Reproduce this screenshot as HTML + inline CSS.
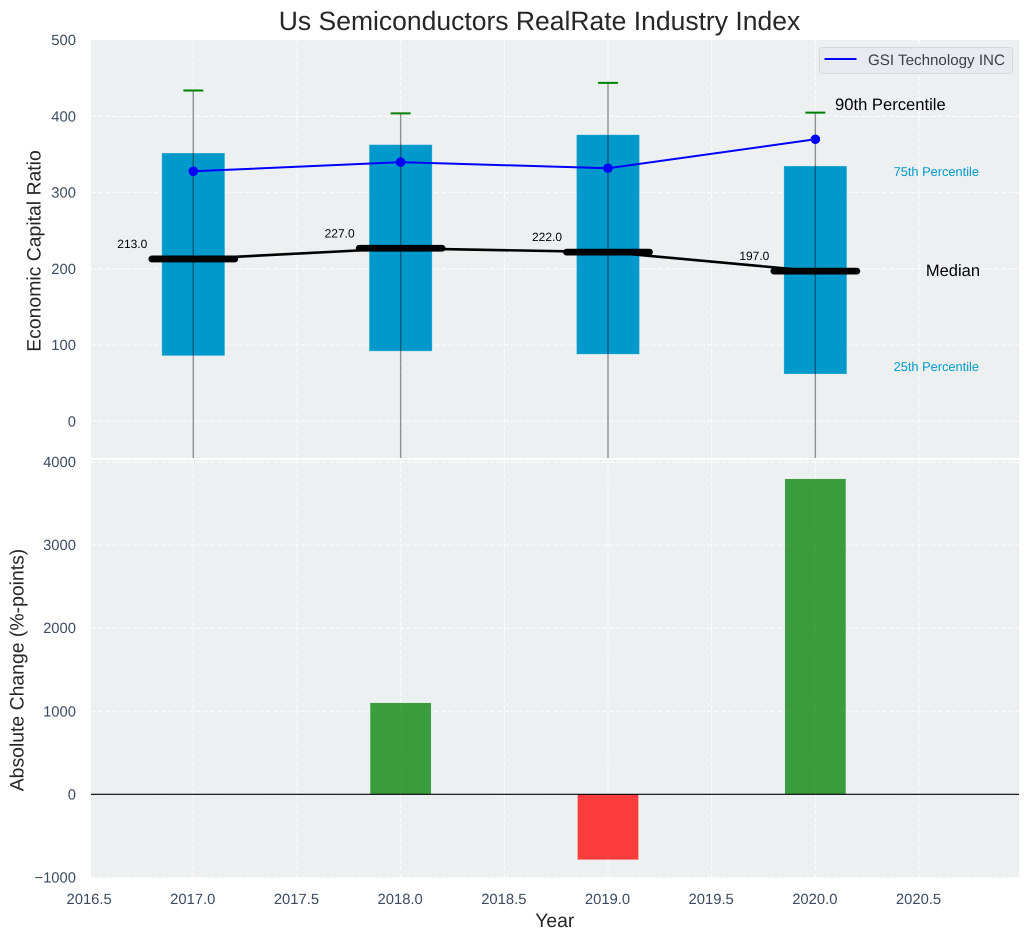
<!DOCTYPE html>
<html lang="en">
<head>
<meta charset="utf-8">
<title>Us Semiconductors RealRate Industry Index</title>
<style>
  html, body { margin: 0; padding: 0; background: #ffffff; }
  svg { display: block; font-family: "Liberation Sans", Arial, sans-serif; text-rendering: geometricPrecision; }
  .tick { font-size: 14.8px; fill: #3b4a60; }
  .axis-title { font-size: 19.4px; fill: #262626; }
</style>
</head>
<body>
<svg id="chart" xmlns="http://www.w3.org/2000/svg" width="1029" height="940" viewBox="0 0 1029 940">
  <defs>
    <clipPath id="top-clip"><rect x="91" y="40" width="928" height="418"></rect></clipPath>
    <clipPath id="bottom-clip"><rect x="91" y="460" width="928" height="418"></rect></clipPath>
  </defs>
  <rect x="0" y="0" width="1029" height="940" fill="#ffffff"></rect>
  <rect x="91" y="40" width="928" height="418" fill="#ecf0f1"></rect>
  <rect x="91" y="460" width="928" height="418" fill="#ecf0f1"></rect>
  <g id="grid-layer"></g>
  <g id="tick-layer"></g>
  <g id="top-marks" clip-path="url(#top-clip)"></g>
  <g id="bottom-marks" clip-path="url(#bottom-clip)"></g>
  <g id="label-layer"></g>

  <text x="539.5" y="30" text-anchor="middle" font-size="26.5px" fill="#262626">Us Semiconductors RealRate Industry Index</text>
  <text class="axis-title" transform="translate(40.5,251) rotate(-90)" text-anchor="middle">Economic Capital Ratio</text>
  <text class="axis-title" transform="translate(23.5,670) rotate(-90)" text-anchor="middle">Absolute Change (%-points)</text>
  <text class="axis-title" x="554.8" y="927" text-anchor="middle">Year</text>

  <text x="835" y="110" font-size="16.6px" fill="#000000">90th Percentile</text>
  <text x="979" y="176" text-anchor="end" font-size="12.8px" fill="#0099cc">75th Percentile</text>
  <text x="980" y="276" text-anchor="end" font-size="16.5px" fill="#000000">Median</text>
  <text x="979" y="371" text-anchor="end" font-size="12.8px" fill="#0099cc">25th Percentile</text>

  <g>
    <rect x="819.5" y="47.5" width="193" height="26" rx="3" fill="#e9eaf0" stroke="#d6d8de" stroke-width="1"></rect>
    <line x1="824.5" y1="59" x2="856.5" y2="59" stroke="#0000ff" stroke-width="2"></line>
    <text x="868" y="65" font-size="15.15px" fill="#3b3f47">GSI Technology INC</text>
  </g>
</svg>
<script>
// ---- chart data ----
const years = [2017, 2018, 2019, 2020];
const p25 = [86, 92, 88, 62];
const p75 = [352, 363, 376, 335];
const medians = [213, 227, 222, 197];
const p90 = [434, 404, 444, 405];
const whiskerLow = [-60, -60, -60, -60];
const companyValues = [328, 340, 332, 370];
const absoluteChange = [0, 1100, -786, 3797];
const xTicks = [2016.5, 2017.0, 2017.5, 2018.0, 2018.5, 2019.0, 2019.5, 2020.0, 2020.5];
const topYTicks = [0, 100, 200, 300, 400, 500];
const bottomYTicks = [-1000, 0, 1000, 2000, 3000, 4000];

// ---- axis functions ----
function xPos(v) { return 193.3 + (v - 2017) * 207.35; }
function yTop(v) { return 421.3 - v * 0.7622; }
function yBottom(v) { return 794.3 - v * 0.08305; }

const NS = 'http://www.w3.org/2000/svg';
function mk(parent, tag, attrs, text) {
  const el = document.createElementNS(NS, tag);
  for (const k in attrs) el.setAttribute(k, attrs[k]);
  if (text !== undefined) el.textContent = text;
  parent.appendChild(el);
  return el;
}
const gridLayer = document.getElementById('grid-layer');
const tickLayer = document.getElementById('tick-layer');
const topMarks = document.getElementById('top-marks');
const bottomMarks = document.getElementById('bottom-marks');
const labelLayer = document.getElementById('label-layer');
const gridStyle = { stroke: '#ffffff', 'stroke-width': 1, 'stroke-dasharray': '5 2', opacity: 0.9 };

// grid + tick labels
xTicks.forEach(function (t) {
  const px = xPos(t);
  if (px > 91) {
    const a = mk(gridLayer, 'line', Object.assign({ x1: px, x2: px, y1: 40, y2: 458 }, gridStyle));
    
    
    const b = mk(gridLayer, 'line', Object.assign({ x1: px, x2: px, y1: 460, y2: 878 }, gridStyle));
    
    
  }
  const lab = mk(tickLayer, 'text', { x: px - 0.5, y: 904, 'text-anchor': 'middle', class: 'tick' }, t.toFixed(1));
  
  
});
topYTicks.forEach(function (t) {
  const py = yTop(t);
  if (t < 500) {
    const g = mk(gridLayer, 'line', Object.assign({ x1: 91, x2: 1019, y1: py, y2: py }, gridStyle));
    
    
  }
  const lab = mk(tickLayer, 'text', { x: 76, y: py + 5, 'text-anchor': 'end', class: 'tick' }, String(t));
  
  
});
bottomYTicks.forEach(function (t) {
  const py = yBottom(t);
  const g = mk(gridLayer, 'line', Object.assign({ x1: 91, x2: 1019, y1: py, y2: py }, gridStyle));
  
  
  const lab = mk(tickLayer, 'text', { x: 76, y: py + 5, 'text-anchor': 'end', class: 'tick' }, String(t).replace('-', '\u2212'));
  
  
});

// percentile boxes
const boxWidth = 0.304;
years.forEach(function (yr, i) {
  const box = mk(topMarks, 'rect', {
    x: xPos(yr - boxWidth / 2),
    y: yTop(p75[i]),
    width: xPos(yr + boxWidth / 2) - xPos(yr - boxWidth / 2),
    height: yTop(p25[i]) - yTop(p75[i]),
    fill: '#0099cc',
    stroke: '#ffffff',
    'stroke-opacity': 0.35,
    'stroke-width': 0.8
  });
  
  
});

// whiskers and 90th percentile caps
years.forEach(function (yr, i) {
  const w = mk(topMarks, 'line', {
    x1: xPos(yr), x2: xPos(yr), y1: yTop(p90[i]), y2: yTop(whiskerLow[i]),
    stroke: '#000000', 'stroke-width': 1.4, 'stroke-opacity': 0.42
  });
  
  
  const c = mk(topMarks, 'line', {
    x1: xPos(yr - 0.048), x2: xPos(yr + 0.048), y1: yTop(p90[i]), y2: yTop(p90[i]),
    stroke: '#008000', 'stroke-width': 2
  });
  
  
});

// median connecting line
const medianLine = mk(topMarks, 'polyline', {
  points: years.map(function (yr, i) { return xPos(yr) + ',' + yTop(medians[i]); }).join(' '),
  fill: 'none', stroke: '#000000', 'stroke-width': 2.6
});



// median bars and labels
const labelOffsets = [-61, -61, -61, -61];
years.forEach(function (yr, i) {
  const m = mk(topMarks, 'line', {
    x1: xPos(yr - 0.2), x2: xPos(yr + 0.2), y1: yTop(medians[i]), y2: yTop(medians[i]),
    stroke: '#000000', 'stroke-width': 6.8, 'stroke-linecap': 'round'
  });
  
  
  const t = mk(labelLayer, 'text', {
    x: xPos(yr) + labelOffsets[i],
    y: yTop(medians[i]) - 11,
    'text-anchor': 'middle', 'font-size': '12px', fill: '#000000'
  }, medians[i].toFixed(1));
  
  
});

// company line
const companyLine = mk(topMarks, 'polyline', {
  points: years.map(function (yr, i) { return xPos(yr) + ',' + yTop(companyValues[i]); }).join(' '),
  fill: 'none', stroke: '#0000ff', 'stroke-width': 2
});


years.forEach(function (yr, i) {
  const p = mk(topMarks, 'circle', { cx: xPos(yr), cy: yTop(companyValues[i]), r: 4.8, fill: '#0000ff' });
  
  
});

// change bars
const barWidth = 0.293;
years.forEach(function (yr, i) {
  const v = absoluteChange[i];
  if (v === 0) return;
  const top = Math.min(yBottom(v), yBottom(0));
  const h = Math.abs(yBottom(v) - yBottom(0));
  const b = mk(bottomMarks, 'rect', {
    x: xPos(yr - barWidth / 2),
    y: top,
    width: xPos(yr + barWidth / 2) - xPos(yr - barWidth / 2),
    height: h,
    fill: v > 0 ? '#008000' : '#ff0000',
    'fill-opacity': 0.75
  });
  
  
});
const zeroLine = mk(bottomMarks, 'line', { x1: 91, x2: 1019, y1: yBottom(0), y2: yBottom(0), stroke: '#000000', 'stroke-width': 1.2 });


</script>
</body>
</html>
